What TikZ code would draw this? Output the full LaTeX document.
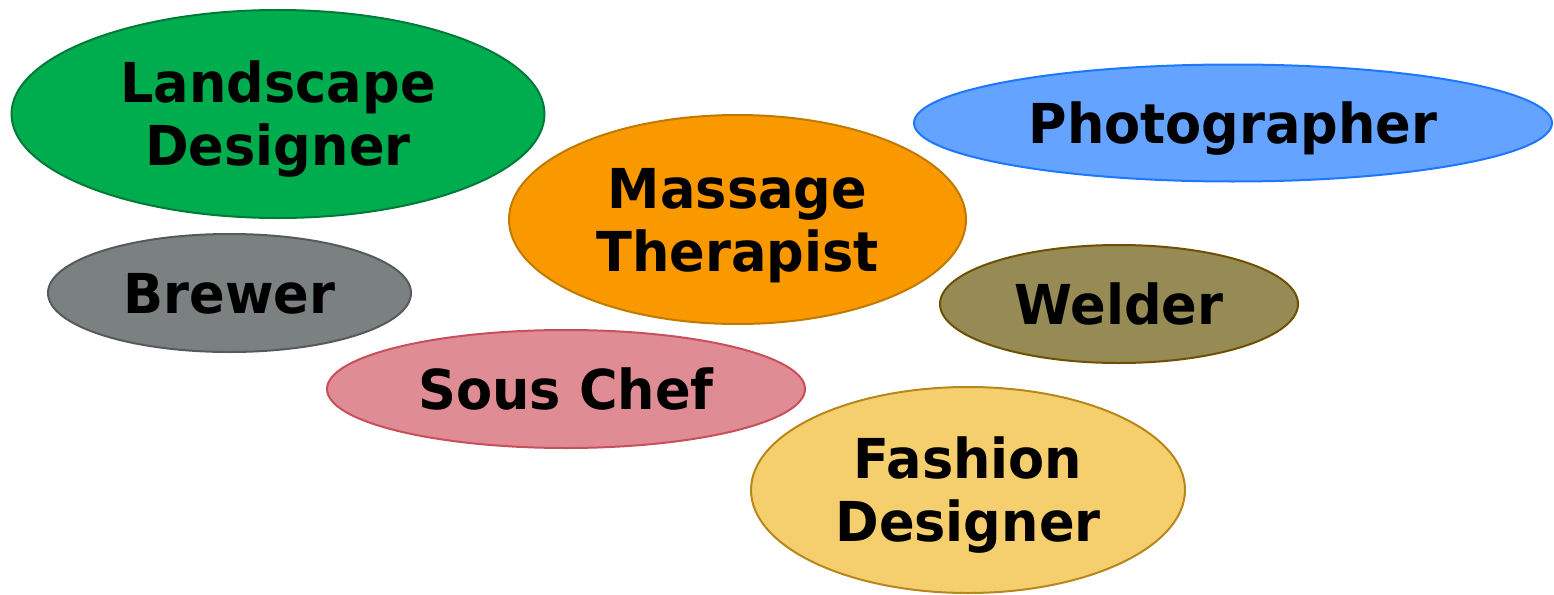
\documentclass[tikz,border=0pt]{standalone}
\usepackage{fontspec}
\setmainfont{DejaVu Sans}
\newfontfamily\jobfont{DejaVu Sans}[FakeStretch=0.956]
\usetikzlibrary{shapes.geometric}
\definecolor{landfill}{HTML}{00AD4E}\definecolor{landline}{HTML}{007A38}
\definecolor{photofill}{HTML}{64A3FF}\definecolor{photoline}{HTML}{1E78FF}
\definecolor{massfill}{HTML}{FA9800}\definecolor{massline}{HTML}{C07A00}
\definecolor{brewfill}{HTML}{7B8181}\definecolor{brewline}{HTML}{555A5A}
\definecolor{weldfill}{HTML}{968A55}\definecolor{weldline}{HTML}{6E5000}
\definecolor{soufill}{HTML}{E08C94}\definecolor{souline}{HTML}{C8505A}
\definecolor{fashfill}{HTML}{F5CF6E}\definecolor{fashline}{HTML}{B8861A}
\begin{document}
\begin{tikzpicture}[x=1pt,y=-1pt,
  job/.style={ellipse, line width=2pt, inner sep=0pt, outer sep=0pt,
    align=center, font=\jobfont\fontsize{55}{63}\selectfont\bfseries, text=black},
  oneline/.style={text height=40pt, text depth=0pt},
  twolines/.style={text height=103pt, text depth=0pt},
  oval/.style n args={2}{minimum width=#1pt, minimum height=#2pt}]
\useasboundingbox (0,0) rectangle (1554,594);
\node[job, twolines, oval={533}{208}, fill=landfill, draw=landline] (land) at (278,114) {Landscape\\Designer};
\node[job, oneline, oval={638}{117}, fill=photofill, draw=photoline] (photo) at (1233,123) {Photographer};
\node[job, twolines, oval={457}{209}, fill=massfill, draw=massline] (mass) at (737.5,219.5) {Massage\\Therapist};
\node[job, oneline, oval={363}{118}, fill=brewfill, draw=brewline] (brew) at (229.5,293) {Brewer};
\node[job, oneline, oval={358}{118}, fill=weldfill, draw=weldline] (weld) at (1119,304) {Welder};
\node[job, oneline, oval={478}{118}, fill=soufill, draw=souline] (sous) at (566,389) {Sous Chef};
\node[job, twolines, oval={434}{206}, fill=fashfill, draw=fashline] (fash) at (968,490) {Fashion\\Designer};
\end{tikzpicture}
\end{document}
